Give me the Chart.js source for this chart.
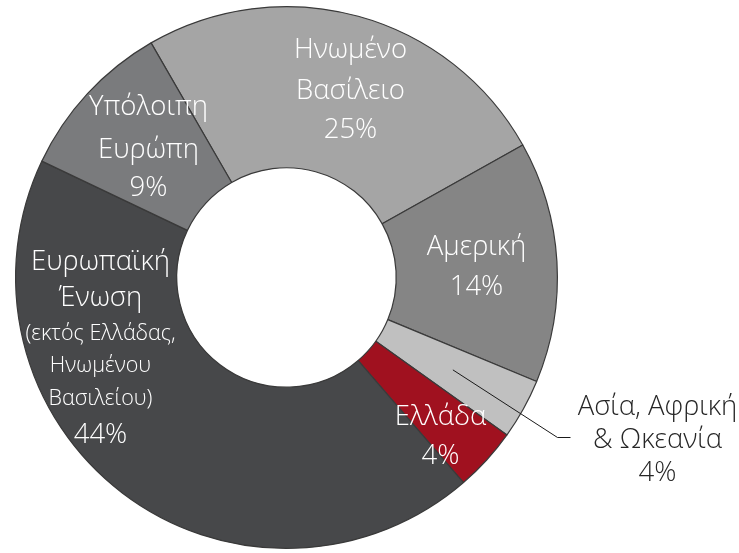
<!DOCTYPE html>
<html>
<head>
<meta charset="utf-8">
<script src="https://cdn.jsdelivr.net/npm/chart.js@4"></script>
<style>
  html, body { margin: 0; padding: 0; background: #ffffff; }
  #wrap { width: 739px; height: 553px; position: relative; }
</style>
</head>
<body>
<div id="wrap"><canvas id="chart"></canvas></div>
<script>
// Regions, clockwise from the UK slice
const regions = ['Ηνωμένο Βασίλειο', 'Αμερική', 'Ασία, Αφρική & Ωκεανία', 'Ελλάδα',
    'Ευρωπαϊκή Ένωση (εκτός Ελλάδας, Ηνωμένου Βασιλείου)', 'Υπόλοιπη Ευρώπη'];
const shares = [25.2, 14.4, 3.6, 3.8, 43.4, 9.6];
const shareLabels = ['25%', '14%', '4%', '4%', '44%', '9%'];
const sliceColors = ['#a5a5a5', '#858585', '#c0c0c0', '#a0111f', '#47484a', '#7a7b7d'];

// Text lines per slice: [text, dx, dy, size] relative to the doughnut centre
const labelLines = [
    [['Ηνωμένο', 64, -227, 27.5], ['Βασίλειο', 64, -186, 27.5], ['25%', 64, -147, 27.5]],
    [['Αμερική', 190, -30, 27.5], ['14%', 190, 10, 27.5]],
    [['Ασία, Αφρική', 371, 130, 27.5], ['& Ωκεανία', 371, 163, 27.5], ['4%', 371, 196, 27.5]],
    [['Ελλάδα', 154, 140, 27.5], ['4%', 154, 179, 27.5]],
    [['Ευρωπαϊκή', -186, -15, 27.5], ['Ένωση', -186, 21, 27.5], ['(εκτός Ελλάδας,', -186, 56, 21.5],
     ['Ηνωμένου', -186, 88, 21.5], ['Βασιλείου)', -186, 121, 21.5], ['44%', -186, 158, 27.5]],
    [['Υπόλοιπη', -138, -170, 27.5], ['Ευρώπη', -138, -127, 27.5], ['9%', -138, -89, 27.5]]
];

const sliceLabels = {
    id: 'sliceLabels',
    afterDraw(chart) {
        const ctx = chart.ctx;
        const arcs = chart.getDatasetMeta(0).data;
        const cx = arcs[0].x, cy = arcs[0].y;
        ctx.save();
        ctx.textAlign = 'center';
        ctx.textBaseline = 'middle';

        // leader line for the small Asia slice
        const a = arcs[2];
        const mid = (a.startAngle + a.endAngle) / 2;
        const r = (a.innerRadius + a.outerRadius) / 2;
        ctx.strokeStyle = '#1a1a1a';
        ctx.lineWidth = 1;
        ctx.beginPath();
        ctx.moveTo(cx + Math.cos(mid) * r, cy + Math.sin(mid) * r);
        ctx.lineTo(cx + 271, cy + 160);
        ctx.lineTo(cx + 284, cy + 160);
        ctx.stroke();

        labelLines.forEach((lines, i) => {
            ctx.fillStyle = i === 2 ? '#262626' : '#ffffff';
            lines.forEach(([text, dx, dy, size]) => {
                ctx.font = '300 ' + size + 'px "Open Sans", "Noto Sans", sans-serif';
                ctx.fillText(text, cx + dx, cy + dy);
            });
        });
        ctx.restore();
    }
};

new Chart(document.getElementById('chart'), {
    type: 'doughnut',
    data: {
        labels: regions,
        datasets: [{
            data: shares,
            backgroundColor: sliceColors,
            borderColor: '#3a3a3a',
            borderWidth: 1.2
        }]
    },
    options: {
        responsive: true,
        maintainAspectRatio: false,
        animation: false,
        rotation: -30,
        cutout: '40.5%',
        layout: { padding: { left: 15, right: 181, top: 6, bottom: 4 } },
        plugins: {
            legend: { display: false },
            tooltip: { enabled: false }
        }
    },
    plugins: [sliceLabels]
});
</script>
</body>
</html>
